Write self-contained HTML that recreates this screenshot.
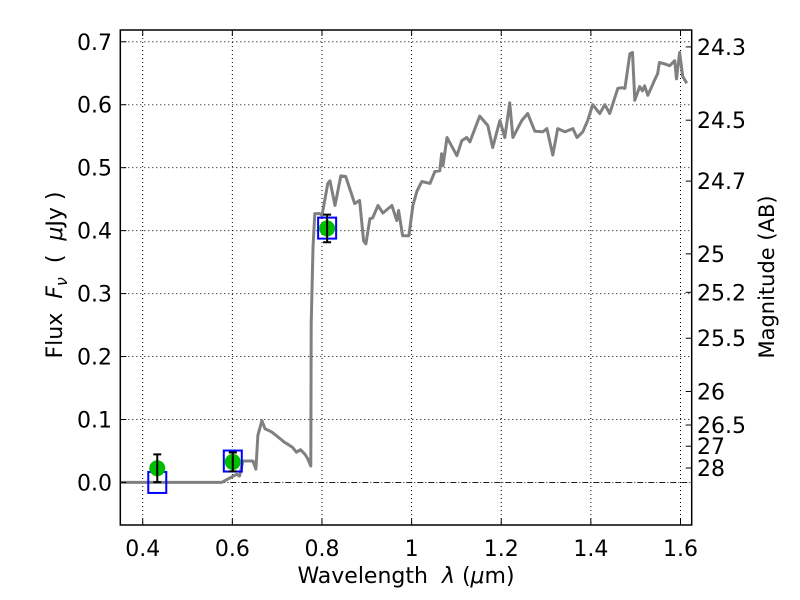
<!DOCTYPE html>
<html><head><meta charset="utf-8"><style>
body{margin:0;background:#fff;}
svg{display:block;font-family:"DejaVu Sans","Liberation Sans",sans-serif;}
</style></head><body>
<svg id="chart" width="800" height="600" viewBox="0 0 800 600" xmlns="http://www.w3.org/2000/svg">
<rect x="0" y="0" width="800" height="600" fill="#fff"/>
<g id="grid"></g>
<g id="series"></g>
<g id="axes"></g>
<text x="406" y="583" font-size="22" text-anchor="middle" xml:space="preserve">Wavelength  <tspan font-style="italic">λ</tspan> (<tspan font-style="italic">μ</tspan>m)</text>
<text transform="translate(62,275) rotate(-90)" font-size="22" text-anchor="middle" xml:space="preserve">Flux  <tspan font-style="italic">F</tspan><tspan font-style="italic" font-size="16" dy="5">ν</tspan><tspan dy="-5">  (  </tspan><tspan font-style="italic">μ</tspan>Jy )</text>
<text transform="translate(774,277) rotate(-90)" font-size="21" text-anchor="middle">Magnitude (AB)</text>
</svg>
<script>
const specWave=[0.35,0.576,0.6095,0.616,0.6236,0.646,0.6526,0.657,0.666,0.673,0.68,0.688,0.697,0.706,0.716,0.7255,0.734,0.743,0.752,0.7616,0.768,0.775,0.776,0.780,0.784,0.795,0.800,0.813,0.818,0.829,0.842,0.853,0.873,0.884,0.893,0.898,0.907,0.913,0.925,0.936,0.956,0.967,0.971,0.980,0.994,1.003,1.012,1.023,1.041,1.052,1.063,1.067,1.070,1.079,1.101,1.112,1.123,1.130,1.152,1.170,1.181,1.197,1.208,1.219,1.226,1.246,1.259,1.275,1.293,1.302,1.315,1.326,1.342,1.360,1.369,1.382,1.393,1.404,1.420,1.431,1.442,1.460,1.469,1.476,1.487,1.493,1.498,1.509,1.515,1.520,1.527,1.536,1.542,1.549,1.553,1.564,1.576,1.587,1.591,1.598,1.605,1.614,1.625];
const specFlux=[0,0,0.013,0.010,0.034,0.034,0.021,0.075,0.098,0.085,0.083,0.080,0.075,0.070,0.064,0.060,0.056,0.048,0.052,0.045,0.038,0.026,0.252,0.373,0.427,0.427,0.424,0.475,0.479,0.440,0.487,0.486,0.443,0.448,0.384,0.379,0.419,0.420,0.440,0.428,0.440,0.416,0.432,0.392,0.392,0.440,0.463,0.478,0.475,0.494,0.495,0.522,0.503,0.548,0.519,0.543,0.548,0.541,0.582,0.567,0.532,0.575,0.548,0.603,0.548,0.575,0.586,0.558,0.557,0.562,0.520,0.562,0.557,0.562,0.548,0.557,0.575,0.600,0.586,0.600,0.586,0.626,0.627,0.626,0.681,0.683,0.607,0.629,0.622,0.630,0.615,0.629,0.639,0.649,0.667,0.665,0.662,0.670,0.641,0.683,0.645,0.634];
const photWave=[0.4325,0.601,0.8115];
const photFlux=[0.0226,0.0326,0.4035];
const photErr=[0.022,0.015,0.022];
const boxWave=[0.4325,0.601,0.8115];
const boxFlux=[0.0,0.034,0.404];
const xTicks=[0.4,0.6,0.8,1.0,1.2,1.4,1.6];
const xTickLabels=["0.4","0.6","0.8","1","1.2","1.4","1.6"];
const yTicks=[0,0.1,0.2,0.3,0.4,0.5,0.6,0.7];
const yTickLabels=["0.0","0.1","0.2","0.3","0.4","0.5","0.6","0.7"];
const magTicks=[24.3,24.5,24.7,25,25.2,25.5,26,26.5,27,28];
const magTickLabels=["24.3","24.5","24.7","25","25.2","25.5","26","26.5","27","28"];

const L=120.3,R=691.7,T=30,B=525;
const xMin=0.35,xMax=1.625,yMin=-0.0676,yMax=0.7187;
const X=v=>L+(v-xMin)/(xMax-xMin)*(R-L);
const Y=v=>B-(v-yMin)/(yMax-yMin)*(B-T);
const NS="http://www.w3.org/2000/svg";
function mk(tag,parent,attrs){const e=document.createElementNS(NS,tag);for(const k in attrs)e.setAttribute(k,attrs[k]);parent.appendChild(e);return e;}
const grid=document.getElementById('grid'),series=document.getElementById('series'),axes=document.getElementById('axes');

xTicks.forEach((v,i)=>{
 const g=mk('line',grid,{x1:X(v),x2:X(v),y1:T,y2:B,stroke:'#000','stroke-width':1,'stroke-dasharray':'1,3'});
 
 
 const t1=mk('line',axes,{x1:X(v),x2:X(v),y1:B,y2:B-6,stroke:'#000','stroke-width':1});
 
 
 const t2=mk('line',axes,{x1:X(v),x2:X(v),y1:T,y2:T+6,stroke:'#000','stroke-width':1});
 
 
 const lb=mk('text',axes,{x:X(v),y:556,'font-size':22,'text-anchor':'middle'});
 lb.textContent=xTickLabels[i];
 
 
});
yTicks.forEach((v,i)=>{
 if(v!==0){const g=mk('line',grid,{x1:L,x2:R,y1:Y(v),y2:Y(v),stroke:'#000','stroke-width':1,'stroke-dasharray':'1,3'});
 
 }
 const t=mk('line',axes,{x1:L,x2:L+6,y1:Y(v),y2:Y(v),stroke:'#000','stroke-width':1});
 
 
 const lb=mk('text',axes,{x:112,y:Y(v)+8,'font-size':22,'text-anchor':'end'});
 lb.textContent=yTickLabels[i];
 
 
});
magTicks.forEach((m,i)=>{
 const f=Math.pow(10,(23.9-m)/2.5);
 const t=mk('line',axes,{x1:R,x2:R-6,y1:Y(f),y2:Y(f),stroke:'#000','stroke-width':1});
 
 
 const lb=mk('text',axes,{x:697,y:Y(f)+8,'font-size':22,'text-anchor':'start'});
 lb.textContent=magTickLabels[i];
 
 
});
const zl=mk('line',grid,{x1:L,x2:R,y1:Y(0),y2:Y(0),stroke:'#000','stroke-width':0.8,'stroke-dasharray':'6,2,1,2'});



const pts=specWave.map((w,i)=>X(w).toFixed(1)+','+Y(specFlux[i]).toFixed(1)).join(' ');
const sp=mk('polyline',series,{points:pts,fill:'none',stroke:'#808080','stroke-width':3,'stroke-linejoin':'round'});



boxWave.forEach((w,i)=>{
 const r=mk('rect',series,{x:X(w)-9,y:Y(boxFlux[i])-10.5,width:18,height:21,fill:'none',stroke:'#0000ff','stroke-width':2});
 
 
});
photWave.forEach((w,i)=>{
 const c=mk('circle',series,{cx:X(w),cy:Y(photFlux[i]),r:8,fill:'#00bb00'});
 
 
 const x=X(w),y1=Y(photFlux[i]+photErr[i]),y2=Y(photFlux[i]-photErr[i]);
 const e=mk('path',series,{d:`M${x},${y1}V${y2}M${x-4},${y1}H${x+4}M${x-4},${y2}H${x+4}`,stroke:'#000','stroke-width':2,fill:'none'});
 
 
});
const fr=mk('rect',axes,{x:L,y:T,width:R-L,height:B-T,fill:'none',stroke:'#000','stroke-width':1.5});


</script>
</body></html>
